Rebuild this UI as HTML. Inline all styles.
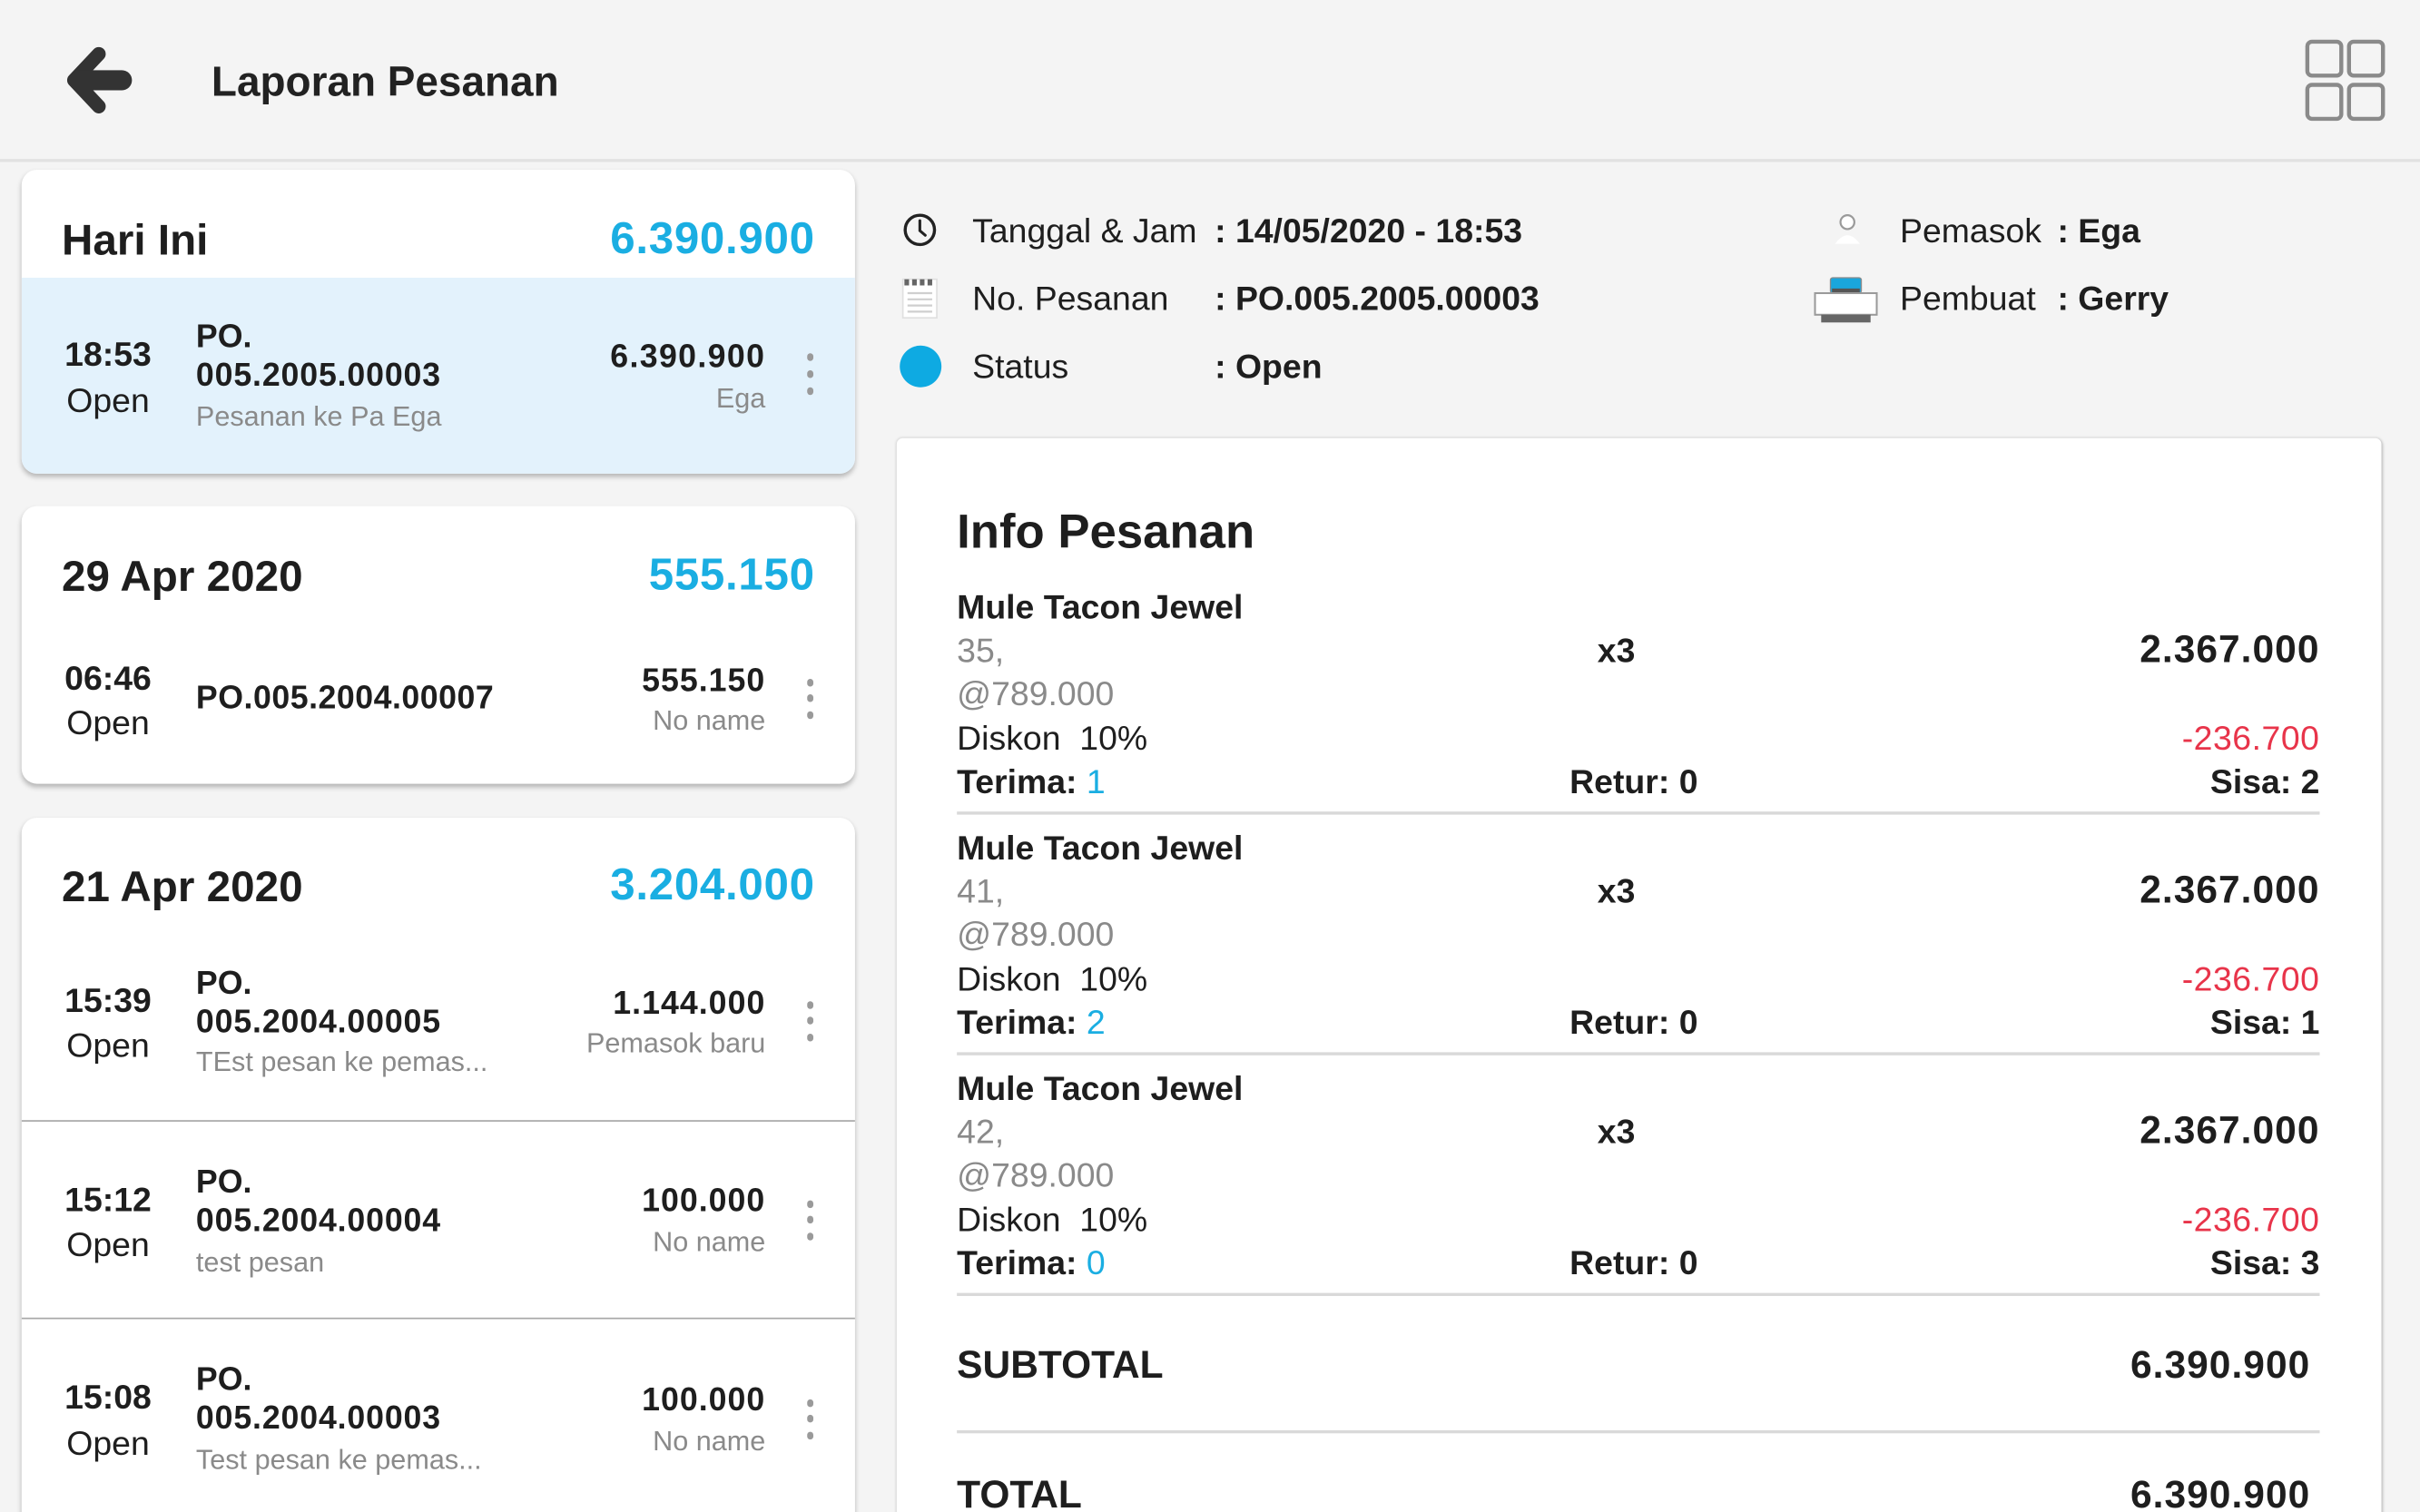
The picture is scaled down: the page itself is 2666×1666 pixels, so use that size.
<!DOCTYPE html>
<html>
<head>
<meta charset="utf-8">
<style>
html,body{margin:0;padding:0;width:2666px;height:1666px;overflow:hidden;background:#f4f4f4;}
#w{position:absolute;left:0;top:0;width:1568px;height:980px;transform:scale(1.70026,1.7);transform-origin:0 0;overflow:hidden;background:#f4f4f4;font-family:"Liberation Sans",sans-serif;color:#1e1e1e;}
.t{position:absolute;white-space:nowrap;line-height:1;margin-top:1px;}
.b{font-weight:bold;}
.g{color:#8a8a8a;}
.blue{color:#1aaee2;}
.r{text-align:right;}
.card{position:absolute;left:14px;width:540px;background:#fff;border-radius:10px;box-shadow:0 2px 3px rgba(0,0,0,0.25);overflow:hidden;}
.dot{position:absolute;width:4px;height:5px;border-radius:2px;background:#9a9a9a;left:523px;}
.hl{position:absolute;left:0;height:1px;background:#a8a8a8;}
.dv{position:absolute;left:620px;width:883px;height:2px;background:#d9d9d9;}
.tm{position:absolute;left:30px;width:80px;text-align:center;white-space:nowrap;line-height:1;font-size:22px;margin-top:1px;}
</style>
</head>
<body>
<div id="w">
  <!-- header -->
  <div style="position:absolute;left:0;top:103px;width:1568px;height:2px;background:#e2e2e2;"></div>
  <svg style="position:absolute;left:40px;top:28px;" width="52" height="48" viewBox="0 0 52 48">
    <path d="M24 7 L8 24 L24 41" fill="none" stroke="#333" stroke-width="9" stroke-linejoin="round" stroke-linecap="round"/>
    <path d="M11 24 L39 24" fill="none" stroke="#333" stroke-width="13" stroke-linecap="round"/>
  </svg>
  <div class="t b" style="left:137px;top:39px;font-size:27px;color:#222;">Laporan Pesanan</div>
  <svg style="position:absolute;left:1490px;top:22px;" width="60" height="60" viewBox="0 0 60 60">
    <g fill="none" stroke="#8a8a8a" stroke-width="2.6">
      <rect x="5" y="5" width="22" height="22" rx="3"/>
      <rect x="32" y="5" width="22" height="22" rx="3"/>
      <rect x="5" y="33" width="22" height="22" rx="3"/>
      <rect x="32" y="33" width="22" height="22" rx="3"/>
    </g>
  </svg>

  <!-- card 1 -->
  <div class="card" style="top:110px;height:197px;">
    <div style="position:absolute;left:0;top:70px;width:540px;height:127px;background:#e3f2fc;"></div>
  </div>
  <div class="t b" style="left:40px;top:141px;font-size:28px;">Hari Ini</div>
  <div class="t b blue r" style="right:1040px;top:140px;font-size:29px;letter-spacing:0.4px;">6.390.900</div>
  <div class="tm b" style="top:218px;">18:53</div>
  <div class="tm" style="top:248px;">Open</div>
  <div class="t b" style="left:127px;top:207px;font-size:21px;">PO.</div>
  <div class="t b" style="left:127px;top:232px;font-size:21px;letter-spacing:0.5px;">005.2005.00003</div>
  <div class="t g" style="left:127px;top:260px;font-size:18px;">Pesanan ke Pa Ega</div>
  <div class="t b r" style="right:1072px;top:220px;font-size:21px;letter-spacing:0.8px;">6.390.900</div>
  <div class="t g r" style="right:1072px;top:248px;font-size:18px;">Ega</div>
  <div class="dot" style="top:229px;"></div><div class="dot" style="top:240px;"></div><div class="dot" style="top:251px;"></div>

  <!-- card 2 -->
  <div class="card" style="top:328px;height:180px;"></div>
  <div class="t b" style="left:40px;top:359px;font-size:28px;">29 Apr 2020</div>
  <div class="t b blue r" style="right:1040px;top:358px;font-size:29px;letter-spacing:0.4px;">555.150</div>
  <div class="tm b" style="top:428px;">06:46</div>
  <div class="tm" style="top:457px;">Open</div>
  <div class="t b" style="left:127px;top:441px;font-size:21px;letter-spacing:0.3px;">PO.005.2004.00007</div>
  <div class="t b r" style="right:1072px;top:430px;font-size:21px;letter-spacing:0.6px;">555.150</div>
  <div class="t g r" style="right:1072px;top:457px;font-size:18px;">No name</div>
  <div class="dot" style="top:440px;"></div><div class="dot" style="top:450px;"></div><div class="dot" style="top:461px;"></div>

  <!-- card 3 -->
  <div class="card" style="top:530px;height:470px;">
    <div class="hl" style="top:196px;width:540px;"></div>
    <div class="hl" style="top:324px;width:540px;"></div>
  </div>
  <div class="t b" style="left:40px;top:560px;font-size:28px;">21 Apr 2020</div>
  <div class="t b blue r" style="right:1040px;top:559px;font-size:29px;letter-spacing:0.4px;">3.204.000</div>

  <div class="tm b" style="top:637px;">15:39</div>
  <div class="tm" style="top:666px;">Open</div>
  <div class="t b" style="left:127px;top:626px;font-size:21px;">PO.</div>
  <div class="t b" style="left:127px;top:651px;font-size:21px;letter-spacing:0.5px;">005.2004.00005</div>
  <div class="t g" style="left:127px;top:678px;font-size:18px;">TEst pesan ke pemas...</div>
  <div class="t b r" style="right:1072px;top:639px;font-size:21px;letter-spacing:0.6px;">1.144.000</div>
  <div class="t g r" style="right:1072px;top:666px;font-size:18px;">Pemasok baru</div>
  <div class="dot" style="top:649px;"></div><div class="dot" style="top:659px;"></div><div class="dot" style="top:670px;"></div>

  <div class="tm b" style="top:766px;">15:12</div>
  <div class="tm" style="top:795px;">Open</div>
  <div class="t b" style="left:127px;top:755px;font-size:21px;">PO.</div>
  <div class="t b" style="left:127px;top:780px;font-size:21px;letter-spacing:0.5px;">005.2004.00004</div>
  <div class="t g" style="left:127px;top:808px;font-size:18px;">test pesan</div>
  <div class="t b r" style="right:1072px;top:767px;font-size:21px;letter-spacing:0.6px;">100.000</div>
  <div class="t g r" style="right:1072px;top:795px;font-size:18px;">No name</div>
  <div class="dot" style="top:778px;"></div><div class="dot" style="top:788px;"></div><div class="dot" style="top:799px;"></div>

  <div class="tm b" style="top:894px;">15:08</div>
  <div class="tm" style="top:924px;">Open</div>
  <div class="t b" style="left:127px;top:883px;font-size:21px;">PO.</div>
  <div class="t b" style="left:127px;top:908px;font-size:21px;letter-spacing:0.5px;">005.2004.00003</div>
  <div class="t g" style="left:127px;top:936px;font-size:18px;">Test pesan ke pemas...</div>
  <div class="t b r" style="right:1072px;top:896px;font-size:21px;letter-spacing:0.6px;">100.000</div>
  <div class="t g r" style="right:1072px;top:924px;font-size:18px;">No name</div>
  <div class="dot" style="top:907px;"></div><div class="dot" style="top:917px;"></div><div class="dot" style="top:928px;"></div>

  <!-- info rows -->
  <svg style="position:absolute;left:584px;top:137px;" width="24" height="24" viewBox="0 0 24 24">
    <circle cx="12" cy="12" r="9.5" fill="none" stroke="#222" stroke-width="2"/>
    <path d="M12 6 L12 12.5 L15.5 15.5" fill="none" stroke="#222" stroke-width="1.8" stroke-linecap="round"/>
  </svg>
  <div class="t" style="left:630px;top:138px;font-size:22px;">Tanggal &amp; Jam</div>
  <div class="t b" style="left:787px;top:138px;font-size:22px;">: 14/05/2020 - 18:53</div>

  <svg style="position:absolute;left:584px;top:180px;" width="26" height="28" viewBox="0 0 26 28">
    <rect x="1" y="1" width="22" height="25" fill="#fff" stroke="#e0e0e0" stroke-width="1"/>
    <g fill="#666"><rect x="2" y="1" width="3" height="4"/><rect x="7" y="1" width="3" height="4"/><rect x="12" y="1" width="3" height="4"/><rect x="17" y="1" width="3" height="4"/></g>
    <g stroke="#cfcfcf" stroke-width="1.3"><line x1="4" y1="10" x2="20" y2="10"/><line x1="4" y1="14" x2="20" y2="14"/><line x1="4" y1="18" x2="20" y2="18"/><line x1="4" y1="22" x2="20" y2="22"/></g>
  </svg>
  <div class="t" style="left:630px;top:182px;font-size:22px;">No. Pesanan</div>
  <div class="t b" style="left:787px;top:182px;font-size:22px;">: PO.005.2005.00003</div>

  <div style="position:absolute;left:583px;top:224px;width:27px;height:27px;border-radius:50%;background:#0eaae2;"></div>
  <div class="t" style="left:630px;top:226px;font-size:22px;">Status</div>
  <div class="t b" style="left:787px;top:226px;font-size:22px;">: Open</div>

  <svg style="position:absolute;left:1184px;top:137px;" width="26" height="26" viewBox="0 0 26 26">
    <circle cx="13" cy="7" r="4.5" fill="#fff" stroke="#9a9a9a" stroke-width="1.3"/>
    <path d="M5 21 Q13 10 21 21 Z" fill="#fff"/>
  </svg>
  <div class="t" style="left:1231px;top:138px;font-size:22px;">Pemasok</div>
  <div class="t b" style="left:1333px;top:138px;font-size:22px;">: Ega</div>

  <svg style="position:absolute;left:1174px;top:179px;" width="44" height="32" viewBox="0 0 44 32">
    <rect x="12" y="1" width="20" height="10" rx="1.5" fill="#1aa6dc" stroke="#8a8a8a" stroke-width="0.8"/>
    <rect x="13" y="8" width="18" height="3" fill="#555"/>
    <rect x="2" y="11" width="40" height="14" fill="#fff" stroke="#9a9a9a" stroke-width="1.2"/>
    <rect x="6" y="25" width="32" height="5" fill="#666"/>
  </svg>
  <div class="t" style="left:1231px;top:182px;font-size:22px;">Pembuat</div>
  <div class="t b" style="left:1333px;top:182px;font-size:22px;">: Gerry</div>

  <!-- info card -->
  <div style="position:absolute;left:581px;top:284px;width:962px;height:720px;background:#fff;border-radius:4px;box-shadow:0 0 2px rgba(0,0,0,0.18),1px 1px 2px rgba(0,0,0,0.12);"></div>
  <div class="t b" style="left:620px;top:328px;font-size:31px;">Info Pesanan</div>

  <!-- item 1 -->
  <div class="t b" style="left:620px;top:382px;font-size:22px;">Mule Tacon Jewel</div>
  <div class="t g" style="left:620px;top:410px;font-size:22px;">35,</div>
  <div class="t g" style="left:620px;top:438px;font-size:22px;">@789.000</div>
  <div class="t" style="left:620px;top:467px;font-size:22px;">Diskon&nbsp;&nbsp;10%</div>
  <div class="t b" style="left:620px;top:495px;font-size:22px;">Terima: <span class="blue" style="font-weight:normal;">1</span></div>
  <div class="t b" style="left:1035px;top:410px;font-size:22px;">x3</div>
  <div class="t b r" style="right:65px;top:408px;font-size:25px;letter-spacing:0.6px;">2.367.000</div>
  <div class="t r" style="right:65px;top:467px;font-size:22px;color:#e8344a;letter-spacing:0.3px;">-236.700</div>
  <div class="t b" style="left:1017px;top:495px;font-size:22px;">Retur: 0</div>
  <div class="t b r" style="right:65px;top:495px;font-size:22px;">Sisa: 2</div>
  <div class="dv" style="top:526px;"></div>

  <!-- item 2 -->
  <div class="t b" style="left:620px;top:538px;font-size:22px;">Mule Tacon Jewel</div>
  <div class="t g" style="left:620px;top:566px;font-size:22px;">41,</div>
  <div class="t g" style="left:620px;top:594px;font-size:22px;">@789.000</div>
  <div class="t" style="left:620px;top:623px;font-size:22px;">Diskon&nbsp;&nbsp;10%</div>
  <div class="t b" style="left:620px;top:651px;font-size:22px;">Terima: <span class="blue" style="font-weight:normal;">2</span></div>
  <div class="t b" style="left:1035px;top:566px;font-size:22px;">x3</div>
  <div class="t b r" style="right:65px;top:564px;font-size:25px;letter-spacing:0.6px;">2.367.000</div>
  <div class="t r" style="right:65px;top:623px;font-size:22px;color:#e8344a;letter-spacing:0.3px;">-236.700</div>
  <div class="t b" style="left:1017px;top:651px;font-size:22px;">Retur: 0</div>
  <div class="t b r" style="right:65px;top:651px;font-size:22px;">Sisa: 1</div>
  <div class="dv" style="top:682px;"></div>

  <!-- item 3 -->
  <div class="t b" style="left:620px;top:694px;font-size:22px;">Mule Tacon Jewel</div>
  <div class="t g" style="left:620px;top:722px;font-size:22px;">42,</div>
  <div class="t g" style="left:620px;top:750px;font-size:22px;">@789.000</div>
  <div class="t" style="left:620px;top:779px;font-size:22px;">Diskon&nbsp;&nbsp;10%</div>
  <div class="t b" style="left:620px;top:807px;font-size:22px;">Terima: <span class="blue" style="font-weight:normal;">0</span></div>
  <div class="t b" style="left:1035px;top:722px;font-size:22px;">x3</div>
  <div class="t b r" style="right:65px;top:720px;font-size:25px;letter-spacing:0.6px;">2.367.000</div>
  <div class="t r" style="right:65px;top:779px;font-size:22px;color:#e8344a;letter-spacing:0.3px;">-236.700</div>
  <div class="t b" style="left:1017px;top:807px;font-size:22px;">Retur: 0</div>
  <div class="t b r" style="right:65px;top:807px;font-size:22px;">Sisa: 3</div>
  <div class="dv" style="top:838px;"></div>

  <!-- totals -->
  <div class="t b" style="left:620px;top:872px;font-size:25px;">SUBTOTAL</div>
  <div class="t b r" style="right:71px;top:872px;font-size:25px;letter-spacing:0.6px;">6.390.900</div>
  <div class="dv" style="top:927px;"></div>
  <div class="t b" style="left:620px;top:956px;font-size:25px;">TOTAL</div>
  <div class="t b r" style="right:71px;top:956px;font-size:25px;letter-spacing:0.6px;">6.390.900</div>
</div>
</body>
</html>
